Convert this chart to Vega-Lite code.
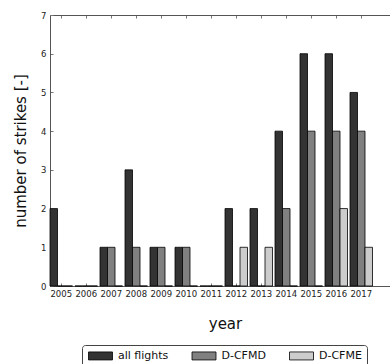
{
  "$schema": "https://vega.github.io/schema/vega-lite/v6.json",
  "width": 340,
  "height": 271,
  "autosize": "none",
  "padding": {"left": 50, "top": 15, "right": 0, "bottom": 78},
  "background": "white",
  "config": {
    "view": {"stroke": null},
    "font": "DejaVu Sans",
    "axis": {
      "labelFont": "DejaVu Sans",
      "labelFontSize": 8.5,
      "labelColor": "#222",
      "titleFont": "DejaVu Sans",
      "titleFontSize": 15,
      "titleFontWeight": "normal",
      "titleColor": "#111",
      "domainColor": "#555",
      "domainWidth": 1,
      "tickColor": "#777",
      "grid": false
    }
  },
  "data": {
    "values": [
      {"year": "2005", "series": "all flights", "value": 2},
      {"year": "2006", "series": "all flights", "value": 0},
      {"year": "2007", "series": "all flights", "value": 1},
      {"year": "2008", "series": "all flights", "value": 3},
      {"year": "2009", "series": "all flights", "value": 1},
      {"year": "2010", "series": "all flights", "value": 1},
      {"year": "2011", "series": "all flights", "value": 0},
      {"year": "2012", "series": "all flights", "value": 2},
      {"year": "2013", "series": "all flights", "value": 2},
      {"year": "2014", "series": "all flights", "value": 4},
      {"year": "2015", "series": "all flights", "value": 6},
      {"year": "2016", "series": "all flights", "value": 6},
      {"year": "2017", "series": "all flights", "value": 5},
      {"year": "2005", "series": "D-CFMD", "value": 0},
      {"year": "2006", "series": "D-CFMD", "value": 0},
      {"year": "2007", "series": "D-CFMD", "value": 1},
      {"year": "2008", "series": "D-CFMD", "value": 1},
      {"year": "2009", "series": "D-CFMD", "value": 1},
      {"year": "2010", "series": "D-CFMD", "value": 1},
      {"year": "2011", "series": "D-CFMD", "value": 0},
      {"year": "2012", "series": "D-CFMD", "value": 0},
      {"year": "2013", "series": "D-CFMD", "value": 0},
      {"year": "2014", "series": "D-CFMD", "value": 2},
      {"year": "2015", "series": "D-CFMD", "value": 4},
      {"year": "2016", "series": "D-CFMD", "value": 4},
      {"year": "2017", "series": "D-CFMD", "value": 4},
      {"year": "2005", "series": "D-CFME", "value": 0},
      {"year": "2006", "series": "D-CFME", "value": 0},
      {"year": "2007", "series": "D-CFME", "value": 0},
      {"year": "2008", "series": "D-CFME", "value": 0},
      {"year": "2009", "series": "D-CFME", "value": 0},
      {"year": "2010", "series": "D-CFME", "value": 0},
      {"year": "2011", "series": "D-CFME", "value": 0},
      {"year": "2012", "series": "D-CFME", "value": 1},
      {"year": "2013", "series": "D-CFME", "value": 1},
      {"year": "2014", "series": "D-CFME", "value": 0},
      {"year": "2015", "series": "D-CFME", "value": 0},
      {"year": "2016", "series": "D-CFME", "value": 2},
      {"year": "2017", "series": "D-CFME", "value": 1}
    ]
  },
  "layer": [
    {
      "mark": {"type": "bar", "stroke": "#000", "strokeWidth": 0.8},
      "encoding": {
        "x": {
          "field": "year",
          "type": "nominal",
          "scale": {"paddingInner": 0.1, "paddingOuter": 0.35, "align": 0},
          "axis": {
            "title": "year",
            "labelAngle": 0,
            "tickSize": -3,
            "labelPadding": 6,
            "titlePadding": 19,
            "titleX": 175,
            "domainColor": "#555"
          }
        },
        "xOffset": {
          "field": "series",
          "type": "nominal",
          "scale": {"domain": ["all flights", "D-CFMD", "D-CFME"], "paddingInner": 0, "paddingOuter": 0}
        },
        "y": {
          "field": "value",
          "type": "quantitative",
          "scale": {"domain": [0, 7], "nice": false},
          "axis": {
            "title": "number of strikes [-]",
            "values": [0, 1, 2, 3, 4, 5, 6, 7],
            "tickSize": -3,
            "labelPadding": 7,
            "titlePadding": 12
          }
        },
        "color": {
          "field": "series",
          "type": "nominal",
          "scale": {"domain": ["all flights", "D-CFMD", "D-CFME"], "range": ["#333333", "#808080", "#cccccc"]},
          "legend": {
            "title": null,
            "orient": "none",
            "legendX": 32,
            "legendY": 330,
            "direction": "horizontal",
            "symbolType": "M-1,-1H5V1H-1Z",
            "symbolSize": 64,
            "symbolStrokeColor": "#000",
            "symbolStrokeWidth": 0.8,
            "labelFont": "DejaVu Sans",
            "labelFontSize": 11,
            "labelColor": "#111",
            "labelOffset": 20,
            "columnPadding": 20.5,
            "padding": 5,
            "strokeColor": "#444",
            "fillColor": "white",
            "cornerRadius": 3
          }
        }
      }
    },
    {
      "mark": {"type": "point", "opacity": 0},
      "encoding": {
        "x": {
          "field": "year",
          "type": "nominal",
          "axis": {"orient": "top", "title": null, "labels": false, "tickSize": -3, "domainColor": "#555"}
        }
      }
    }
  ],
  "resolve": {"axis": {"x": "independent"}}
}
